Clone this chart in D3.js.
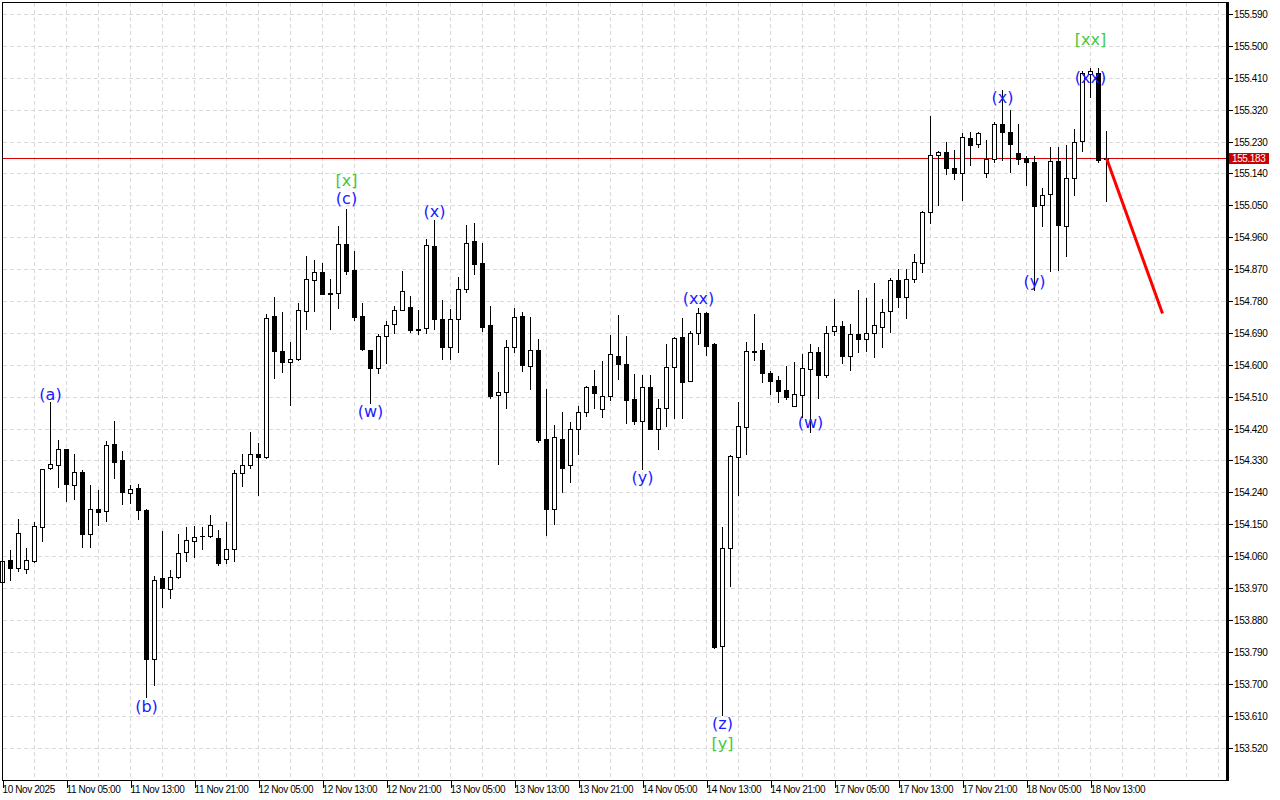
<!DOCTYPE html>
<html><head><meta charset="utf-8">
<script src="https://cdn.jsdelivr.net/npm/d3@7/dist/d3.min.js"></script>
<style>html,body{margin:0;padding:0;background:#fff;} svg{display:block;}</style>
</head><body>
<svg id="c" width="1280" height="800"></svg>
<script>
// ---- DATA (hourly candles) ----
const openP = [153.987,154.049,154.026,154.024,154.047,154.142,154.309,154.317,154.363,154.261,
 154.298,154.122,154.194,154.188,154.377,154.330,154.238,154.251,154.191,153.770,
 153.997,153.966,154.000,154.072,154.103,154.118,154.116,154.110,154.053,154.079,
 154.296,154.318,154.348,154.340,154.737,154.640,154.608,154.616,154.753,154.840,
 154.863,154.803,154.803,154.940,154.867,154.739,154.643,154.591,154.682,154.715,
 154.756,154.762,154.702,154.705,154.936,154.729,154.650,154.730,154.814,154.948,
 154.886,154.711,154.514,154.522,154.651,154.737,154.598,154.641,154.390,154.192,
 154.392,154.316,154.420,154.468,154.539,154.474,154.513,154.626,154.603,154.503,
 154.442,154.537,154.420,154.479,154.595,154.678,154.553,154.691,154.745,154.658,
 153.807,154.082,154.340,154.425,154.640,154.641,154.576,154.556,154.528,154.484,
 154.516,154.589,154.635,154.571,154.695,154.710,154.626,154.686,154.673,154.690,
 154.707,154.752,154.838,154.790,154.843,154.886,155.030,155.193,155.200,155.156,
 155.140,155.239,155.224,155.142,155.182,155.279,155.257,155.198,155.185,155.173,
 155.052,155.083,155.176,154.992,155.128,155.232,155.420,155.423,155.181];
const highP = [154.060,154.078,154.166,154.084,154.155,154.306,154.494,154.388,154.363,154.349,
 154.304,154.262,154.248,154.386,154.442,154.358,154.262,154.264,154.192,154.004,
 154.131,154.020,154.122,154.142,154.145,154.142,154.176,154.133,154.156,154.302,
 154.348,154.409,154.378,154.742,154.791,154.749,154.664,154.775,154.906,154.895,
 154.886,154.843,154.991,155.041,154.920,154.774,154.643,154.688,154.725,154.765,
 154.864,154.795,154.754,154.954,155.010,154.784,154.757,154.849,154.994,155.001,
 154.945,154.767,154.581,154.671,154.760,154.748,154.734,154.672,154.533,154.429,
 154.466,154.438,154.483,154.539,154.584,154.610,154.683,154.740,154.680,154.573,
 154.572,154.572,154.503,154.658,154.678,154.731,154.696,154.759,154.748,154.662,
 154.143,154.345,154.494,154.663,154.743,154.662,154.583,154.567,154.596,154.607,
 154.631,154.658,154.651,154.709,154.785,154.725,154.714,154.811,154.788,154.830,
 154.785,154.844,154.870,154.870,154.912,155.033,155.301,155.203,155.228,155.205,
 155.253,155.258,155.258,155.235,155.286,155.376,155.318,155.280,155.188,155.188,
 155.100,155.214,155.214,155.220,155.265,155.430,155.438,155.437,155.261];
const lowP = [153.970,153.994,154.017,154.012,154.043,154.102,154.306,154.254,154.215,154.220,
 154.085,154.085,154.147,154.160,154.280,154.207,154.211,154.165,153.663,153.696,
 153.917,153.942,153.997,154.047,154.058,154.079,154.113,154.035,154.041,154.047,
 154.258,154.309,154.233,154.337,154.563,154.580,154.486,154.613,154.700,154.752,
 154.800,154.700,154.761,154.856,154.727,154.641,154.493,154.578,154.605,154.690,
 154.756,154.693,154.687,154.690,154.702,154.617,154.617,154.636,154.806,154.856,
 154.696,154.507,154.321,154.478,154.636,154.582,154.531,154.383,154.121,154.151,
 154.241,154.270,154.349,154.456,154.478,154.453,154.500,154.560,154.437,154.434,
 154.305,154.419,154.362,154.427,154.449,154.450,154.553,154.659,154.628,153.802,
 153.612,153.976,154.232,154.349,154.613,154.552,154.519,154.495,154.503,154.484,
 154.453,154.411,154.506,154.566,154.683,154.605,154.586,154.637,154.639,154.623,
 154.651,154.693,154.764,154.732,154.834,154.862,155.000,155.050,155.139,155.124,
 155.065,155.164,155.215,155.130,155.172,155.177,155.145,155.167,155.108,154.812,
 154.991,154.865,154.868,154.908,155.080,155.202,155.355,155.173,155.061];
const closeP = [154.047,154.026,154.126,154.049,154.145,154.306,154.320,154.362,154.263,154.298,
 154.122,154.193,154.185,154.374,154.325,154.240,154.250,154.189,153.770,153.994,
 153.969,154.000,154.070,154.105,154.115,154.118,154.149,154.041,154.079,154.296,
 154.318,154.347,154.341,154.733,154.639,154.608,154.616,154.756,154.843,154.863,
 154.800,154.800,154.940,154.865,154.735,154.644,154.591,154.682,154.713,154.756,
 154.807,154.698,154.698,154.939,154.728,154.650,154.730,154.814,154.945,154.885,
 154.707,154.512,154.522,154.651,154.736,154.600,154.643,154.388,154.194,154.395,
 154.309,154.420,154.468,154.536,154.521,154.513,154.630,154.602,154.502,154.442,
 154.538,154.419,154.479,154.595,154.677,154.552,154.689,154.745,154.654,153.804,
 154.083,154.342,154.427,154.638,154.636,154.577,154.554,154.526,154.509,154.519,
 154.592,154.635,154.571,154.689,154.710,154.626,154.688,154.673,154.691,154.711,
 154.750,154.838,154.792,154.843,154.889,155.030,155.193,155.200,155.155,155.140,
 155.244,155.220,155.253,155.182,155.279,155.257,155.222,155.182,155.173,155.049,
 155.080,155.176,154.994,155.128,155.229,155.423,155.430,155.177,155.183];

const timeLabels = ["10 Nov 2025","11 Nov 05:00","11 Nov 13:00","11 Nov 21:00","12 Nov 05:00",
 "12 Nov 13:00","12 Nov 21:00","13 Nov 05:00","13 Nov 13:00","13 Nov 21:00","14 Nov 05:00",
 "14 Nov 13:00","14 Nov 21:00","17 Nov 05:00","17 Nov 13:00","17 Nov 21:00","18 Nov 05:00","18 Nov 13:00"];
const timeTickBars = [0,8,16,24,32,40,48,56,64,72,80,88,96,104,112,120,128,136];
const gridBars = [4,8,12,16,20,24,28,32,36,40,44,48,52,56,60,64,68,72,76,80,84,88,92,96,100,
 104,108,112,116,120,124,128,132,136,140,144,148,152];
const yTicks = [155.590,155.500,155.410,155.320,155.230,155.140,155.050,154.960,154.870,154.780,
 154.690,154.600,154.510,154.420,154.330,154.240,154.150,154.060,153.970,153.880,153.790,
 153.700,153.610,153.520];
const currentPrice = 155.183;

const waveBars   = [6, 18, 43, 43, 46, 54, 80, 87, 90, 90, 101, 125, 129, 136, 136];
const waveTexts  = ["(a)","(b)","[x]","(c)","(w)","(x)","(y)","(xx)","(z)","[y]","(w)","(x)","(y)","(xx)","[xx]"];
const wavePrices = [154.517,153.637,155.119,155.068,154.469,155.034,154.283,154.786,153.589,153.532,
 154.436,155.353,154.836,155.412,155.517];
const waveDegree = ["minor","minor","major","minor","minor","minor","minor","minor","minor","major",
 "minor","minor","minor","minor","major"];

const forecastBars = [138, 145];
const forecastPrices = [155.183, 154.745];

// ---- LAYOUT ----
const plotL = 2, plotT = 2, plotR = 1226, plotB = 780;
const x = d3.scaleLinear().domain([0, 1]).range([2.5, 10.5]);
const y = d3.scaleLinear().domain([153.52, 155.59]).range([747.5, 14]);
const py = v => Math.round(y(v));

const svg = d3.select("#c");
svg.append("rect").attr("width",1280).attr("height",800).attr("fill","#fff");

const grid = svg.append("g").attr("shape-rendering","crispEdges")
  .attr("stroke","#dadada").attr("stroke-dasharray","4,3");
grid.selectAll("line.h").data(yTicks).join("line").attr("class","h")
  .attr("x1", plotL+1).attr("x2", plotR).attr("y1", d=>py(d)+0.5).attr("y2", d=>py(d)+0.5);
grid.selectAll("line.v").data(gridBars).join("line").attr("class","v")
  .attr("x1", d=>x(d)).attr("x2", d=>x(d)).attr("y1", plotT+1).attr("y2", plotB);

// current price line
svg.append("line").attr("shape-rendering","crispEdges")
  .attr("x1", plotL).attr("x2", plotR).attr("y1", py(currentPrice)+0.5).attr("y2", py(currentPrice)+0.5)
  .attr("stroke","#d40000").attr("stroke-width",1);

// candles
const bars = d3.range(openP.length).map(i => ({i, o:openP[i], h:highP[i], l:lowP[i], c:closeP[i]}));
const cg = svg.append("g").attr("shape-rendering","crispEdges");
cg.selectAll("rect.wick").data(bars).join("rect").attr("class","wick")
  .attr("x", d=>x(d.i)-0.5).attr("width",1)
  .attr("y", d=>py(d.h)).attr("height", d=>Math.max(1, py(d.l)-py(d.h)+1))
  .attr("fill","#000");
cg.selectAll("rect.body").data(bars).join("rect").attr("class","body")
  .each(function(d){
    const top = Math.min(py(d.o), py(d.c)), bot = Math.max(py(d.o), py(d.c));
    const s = d3.select(this);
    const cx = x(d.i);
    if (d.c > d.o && bot - top >= 2) {
      s.attr("x", cx-2).attr("y", top+0.5).attr("width",4).attr("height", bot-top)
       .attr("fill","#fff").attr("stroke","#000").attr("stroke-width",1);
    } else {
      s.attr("x", cx-2.5).attr("y", top).attr("width",5).attr("height", Math.max(1, bot-top+1))
       .attr("fill","#000");
    }
  });

// forecast line
svg.append("line")
  .attr("x1", x(forecastBars[0])).attr("y1", y(forecastPrices[0]))
  .attr("x2", x(forecastBars[1])).attr("y2", y(forecastPrices[1]))
  .attr("stroke","#ff0000").attr("stroke-width",3);

// wave labels
svg.append("g").selectAll("text").data(waveTexts).join("text")
  .attr("x", (d,k)=>x(waveBars[k])).attr("y", (d,k)=>y(wavePrices[k]))
  .attr("text-anchor","middle").attr("dominant-baseline","central")
  .attr("font-family","DejaVu Sans, sans-serif").attr("font-size","16px")
  .attr("fill", (d,k)=> waveDegree[k]==="major" ? "#44c93c" : "#1a1aff")
  .text(d=>d);

// frame
svg.append("rect").attr("shape-rendering","crispEdges")
  .attr("x", plotL+0.5).attr("y", plotT+0.5).attr("width", plotR-plotL).attr("height", plotB-plotT)
  .attr("fill","none").attr("stroke","#000");
svg.append("rect").attr("shape-rendering","crispEdges")
  .attr("x", plotR).attr("y", plotT).attr("width",3).attr("height", plotB-plotT+1).attr("fill","#000");

// y axis
const yAxis = svg.append("g").attr("transform",`translate(${plotR+3},0)`)
  .call(d3.axisRight(y).tickValues(yTicks).tickFormat(d3.format(".3f")).tickSize(4).tickPadding(1));
yAxis.select(".domain").remove();
yAxis.selectAll(".tick line").attr("shape-rendering","crispEdges");
yAxis.selectAll(".tick").attr("transform", d=>`translate(0,${py(d)+0.5})`);
yAxis.selectAll("text").attr("font-family","Liberation Sans, Arial, sans-serif")
  .attr("font-size","10px").attr("letter-spacing","-0.4px").attr("fill","#000");

// current price tag
const tagY = py(currentPrice);
svg.append("rect").attr("x", plotR+3).attr("y", tagY-5).attr("width",40).attr("height",11).attr("fill","#c80000");
svg.append("text").attr("x", plotR+6).attr("y", tagY+0.5).attr("dominant-baseline","central")
  .attr("font-family","Liberation Sans, Arial, sans-serif").attr("font-size","10px")
  .attr("letter-spacing","-0.4px").attr("fill","#fff").text(d3.format(".3f")(currentPrice));

// x axis
const xAxis = svg.append("g").attr("transform",`translate(0,${plotB})`)
  .call(d3.axisBottom(x).tickValues(timeTickBars).tickFormat((d,k)=>timeLabels[k]).tickSize(8).tickPadding(2));
xAxis.select(".domain").remove();
xAxis.selectAll(".tick line").attr("shape-rendering","crispEdges");
xAxis.selectAll("text").attr("text-anchor","start").attr("dx","-0.5")
  .attr("font-family","Liberation Sans, Arial, sans-serif").attr("font-size","10px")
  .attr("letter-spacing","-0.4px").attr("fill","#000").attr("y",6).attr("dy","0.71em");
</script>
</body></html>
